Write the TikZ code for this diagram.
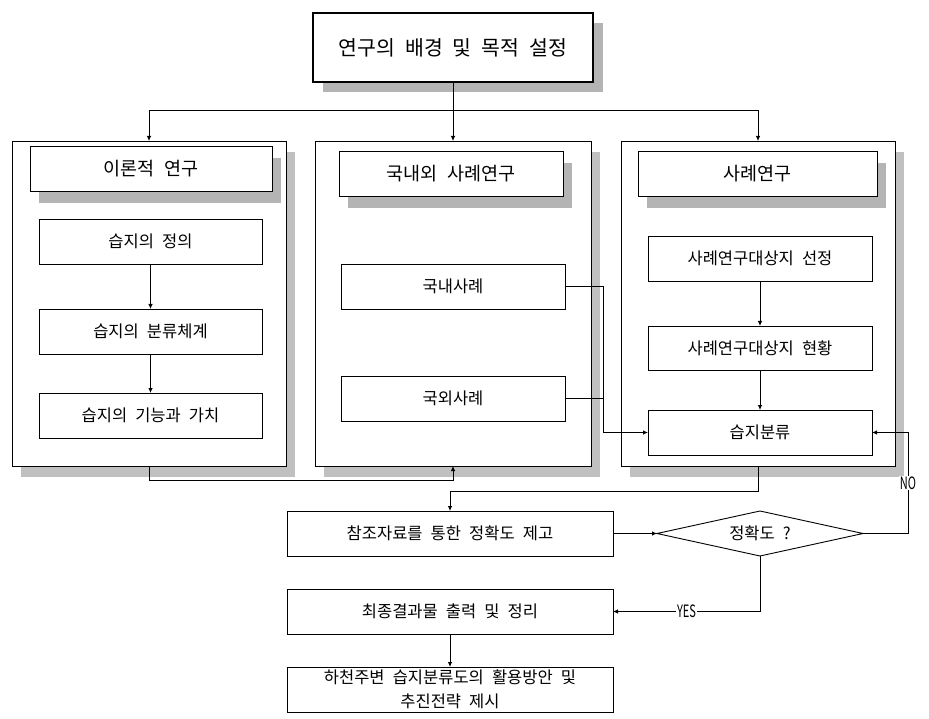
\documentclass[tikz,border=0pt]{standalone}
\usepackage{fontspec}
\setmainfont[WordSpace=2.2]{Noto Sans CJK KR}
\usetikzlibrary{arrows.meta,shapes.geometric,shadows}
\definecolor{shdA}{HTML}{C0C0C0}
\definecolor{shdB}{HTML}{B4B4B4}
\begin{document}
\begin{tikzpicture}[x=1pt,y=1pt,
  every node/.style={inner sep=0pt, outer sep=0pt},
  box/.style={draw, line width=0.9pt, fill=white, minimum height=45pt, font=\fontsize{16.5}{24}\selectfont},
  ttl/.style={box, font=\fontsize{18.5}{22}\selectfont, drop shadow={shadow xshift=9pt, shadow yshift=-12pt, fill=shdB, opacity=1}},
  grp/.style={draw, line width=0.9pt, fill=white, drop shadow={shadow xshift=9pt, shadow yshift=-11pt, fill=shdA, opacity=1}},
  ln/.style={line width=0.8pt},
  arr/.style={ln, -{Latex[length=5pt,width=4.5pt]}},
  lbl/.style={fill=white, inner sep=1pt, font=\fontsize{17}{17}\selectfont}
]
\useasboundingbox (0,0) rectangle (929,-719);
\fill[white] (0,0) rectangle (929,-719);

% top box
\node[draw, line width=2.8pt, fill=white, minimum width=280pt, minimum height=69pt,
      font=\fontsize{20.5}{24}\selectfont,
      drop shadow={shadow xshift=10pt, shadow yshift=-10pt, fill=shdB, opacity=1}]
      (top) at (453,-47.5) {연구의 배경 및 목적 설정};

% groups
\node[grp, minimum width=274pt, minimum height=325pt] (G1) at (149,-303.5) {};
\node[grp, minimum width=276pt, minimum height=325pt] (G2) at (453,-303.5) {};
\node[grp, minimum width=274pt, minimum height=325pt] (G3) at (758,-303.5) {};

% titles
\node[ttl, minimum width=242pt] (T1) at (151,-168.5) {이론적 연구};
\node[ttl, minimum width=224pt] (T2) at (451,-173.5) {국내외 사례연구};
\node[ttl, minimum width=239pt] (T3) at (757.5,-173.5) {사례연구};

% left column
\node[box, minimum width=223pt] (A1) at (150.5,-241.5) {습지의 정의};
\node[box, minimum width=223pt] (A2) at (150.5,-331.5) {습지의 분류체계};
\node[box, minimum width=223pt] (A3) at (150.5,-415.5) {습지의 기능과 가치};

% middle column
\node[box, minimum width=224pt] (B1) at (453,-286.5) {국내사례};
\node[box, minimum width=224pt] (B2) at (453,-398.5) {국외사례};

% right column
\node[box, minimum width=224pt] (C1) at (760,-258.5) {사례연구대상지 선정};
\node[box, minimum width=224pt, minimum height=44pt] (C2) at (760,-348) {사례연구대상지 현황};
\node[box, minimum width=224pt] (C3) at (760,-432.5) {습지분류};

% lower part
\node[box, minimum width=326pt] (R) at (450,-533.5) {참조자료를 통한 정확도 제고};
\node[diamond, draw, line width=0.9pt, minimum width=206pt, minimum height=45pt] (D) at (760,-533.5) {};
\node[font=\fontsize{16.5}{20}\selectfont] (Dt) at (D.center) {정확도 ?};
\node[box, minimum width=326pt] (F) at (450,-611.5) {최종결과물 출력 및 정리};
\node[box, minimum width=326pt, align=center] (L) at (450,-689.5) {하천주변 습지분류도의 활용방안 및\\추진전략 제시};

% connectors from top
\draw[ln] (top.south) -- ++(0,-28) coordinate (hj);
\draw[arr] (hj) -| (G1.north);
\draw[arr] (hj) -- (G2.north);
\draw[arr] (hj) -| (G3.north);

% inside columns
\draw[arr] (A1) -- (A2);
\draw[arr] (A2) -- (A3);
\draw[arr] (C1) -- (C2);
\draw[arr] (C2) -- (C3);
\draw[arr] (B1.east) -- ++(38,0) |- (C3.west);
\draw[ln] (B2.east) -- ++(38,0);

% between groups
\draw[arr] (G1.south) -- ++(0,-14) -| (G2.south);
\draw[arr] (G3.south) -- ++(0,-25) -| (R.north);

% lower flow
\draw[arr] (R.east) -- (D.west);
\draw[arr] (D.east) -- ++(45,0) |- node[lbl, pos=0.25] (no) {\scalebox{0.65}[1]{NO}} (C3.east);
\draw[arr] (D.south) |- node[lbl, pos=0.75] (yes) {\scalebox{0.65}[1]{YES}} (F.east);
\draw[arr] (F.south) -- (L.north);
\end{tikzpicture}
\end{document}
